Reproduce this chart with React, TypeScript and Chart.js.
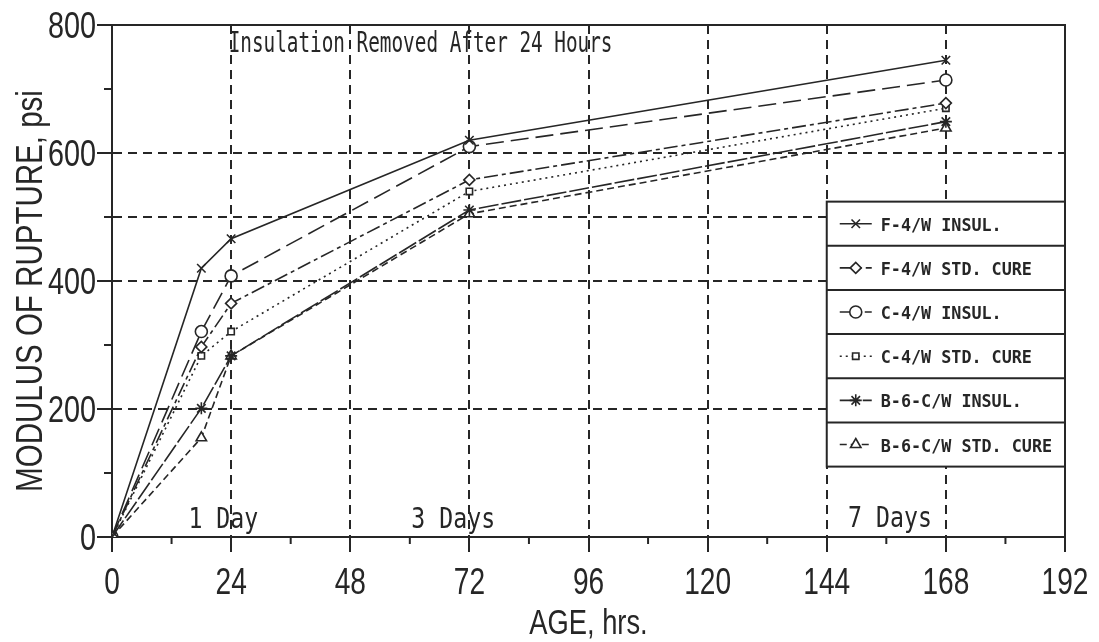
import React, { useEffect, useRef } from 'react';
import { Chart, registerables } from 'chart.js';
import { drawPoint } from 'chart.js/helpers';

Chart.register(...registerables);

// ---------------- DATA ----------------
const hours = [0, 18, 24, 72, 168];
const seriesNames = [
  'F-4/W INSUL.',
  'F-4/W STD. CURE',
  'C-4/W INSUL.',
  'C-4/W STD. CURE',
  'B-6-C/W INSUL.',
  'B-6-C/W STD. CURE',
];
const f4Insul = [0, 420, 466, 620, 745];
const f4Std = [0, 297, 365, 558, 678];
const c4Insul = [0, 321, 408, 610, 714];
const c4Std = [0, 283, 321, 540, 670];
const b6Insul = [0, 201, 283, 511, 649];
const b6Std = [0, 155, 283, 505, 639];
const seriesValues = [f4Insul, f4Std, c4Insul, c4Std, b6Insul, b6Std];

const xMajorTicks = [0, 24, 48, 72, 96, 120, 144, 168, 192];
const xGridValues = [24, 48, 72, 96, 120, 144, 168];
const yMajorTicks = [0, 200, 400, 600, 800];
const yGridValues = [200, 400, 500, 600];
const xMinorTicks = [12, 36, 60, 84, 108, 132, 156, 180];
const yMinorTicks = [100, 300, 500, 700];

const yTitle = 'MODULUS OF RUPTURE, psi';
const xTitle = 'AGE, hrs.';

// annotation texts, anchored in data coordinates
const notes = [
  { text: 'Insulation Removed After 24 Hours', x: 23.5, y: 758, size: 28, sx: 0.69 },
  { text: '1 Day', x: 15.4, y: 14, size: 29, sx: 0.8 },
  { text: '3 Days', x: 60.3, y: 14, size: 29, sx: 0.8 },
  { text: '7 Days', x: 148.3, y: 16, size: 29, sx: 0.8 },
];
// legend box extent in data coordinates
const legendBox = { x0: 144, x1: 192, yTop: 524, yBottom: 110 };

// ---------------- STYLES ----------------
const INK = '#262626';
const SANS = "'Liberation Sans', Arial, sans-serif";
const MONO = "'DejaVu Sans Mono', 'Liberation Mono', monospace";
const styles = [
  { dash: [] as number[], point: 'crossRot', r: 6, bg: INK },
  { dash: [14, 4, 4, 4], point: 'rectRot', r: 5.5, bg: '#fff' },
  { dash: [18, 7], point: 'circle', r: 6, bg: '#fff' },
  { dash: [2, 4], point: 'rect', r: 4.5, bg: '#fff' },
  { dash: [20, 3], point: 'star', r: 6, bg: INK },
  { dash: [7, 4], point: 'triangle', r: 6, bg: '#fff' },
];

function text(ctx: CanvasRenderingContext2D, s: string, x: number, y: number, font: string, sx: number, align: CanvasTextAlign, rot = 0) {
  ctx.save();
  ctx.translate(x, y);
  if (rot) ctx.rotate(rot);
  ctx.scale(sx, 1);
  ctx.font = font;
  ctx.textAlign = align;
  ctx.textBaseline = 'alphabetic';
  ctx.fillStyle = INK;
  ctx.fillText(s, 0, 0);
  ctx.restore();
}

const extrasPlugin = {
  id: 'extras',
  afterDatasetsDraw(chart: any) {
    const { ctx, scales } = chart;
    const xs = scales.x;
    const ys = scales.y;
    ctx.save();
    for (const n of notes) {
      text(ctx, n.text, xs.getPixelForValue(n.x), ys.getPixelForValue(n.y), `${n.size}px ${MONO}`, n.sx, 'left');
    }
    // legend box
    const lx0 = xs.getPixelForValue(legendBox.x0);
    const lx1 = xs.getPixelForValue(legendBox.x1);
    const ly0 = ys.getPixelForValue(legendBox.yTop);
    const ly1 = ys.getPixelForValue(legendBox.yBottom);
    ctx.fillStyle = '#fff';
    ctx.fillRect(lx0, ly0, lx1 - lx0, ly1 - ly0);
    ctx.strokeStyle = INK;
    ctx.lineWidth = 2;
    ctx.setLineDash([]);
    ctx.strokeRect(lx0, ly0, lx1 - lx0, ly1 - ly0);
    const rowH = (ly1 - ly0) / seriesNames.length;
    for (let i = 0; i < seriesNames.length; i++) {
      const top = ly0 + i * rowH;
      if (i > 0) {
        ctx.beginPath();
        ctx.moveTo(lx0, top);
        ctx.lineTo(lx1, top);
        ctx.lineWidth = 2;
        ctx.setLineDash([]);
        ctx.stroke();
      }
      const cy = top + rowH / 2;
      const st = styles[i];
      ctx.beginPath();
      ctx.lineWidth = 1.6;
      ctx.strokeStyle = INK;
      ctx.setLineDash(st.dash);
      ctx.moveTo(lx0 + 13, cy);
      ctx.lineTo(lx0 + 45, cy);
      ctx.stroke();
      ctx.setLineDash([]);
      ctx.fillStyle = st.bg;
      ctx.lineWidth = 1.6;
      drawPoint(ctx, { pointStyle: st.point as any, radius: st.r, rotation: 0, borderWidth: 1.6 }, lx0 + 29, cy);
      text(ctx, seriesNames[i], lx0 + 54, cy + 7, `bold 18px ${MONO}`, 0.93, 'left');
    }
    ctx.restore();
  },
  afterDraw(chart: any) {
    const { ctx, chartArea, scales } = chart;
    const xs = scales.x;
    const ys = scales.y;
    ctx.save();
    ctx.strokeStyle = INK;
    ctx.lineWidth = 2;
    ctx.setLineDash([]);
    // frame top and right
    ctx.beginPath();
    ctx.moveTo(chartArea.left, chartArea.top);
    ctx.lineTo(chartArea.right, chartArea.top);
    ctx.lineTo(chartArea.right, chartArea.bottom);
    ctx.stroke();
    // minor ticks
    for (const v of xMinorTicks) {
      const px = xs.getPixelForValue(v);
      ctx.beginPath();
      ctx.moveTo(px, chartArea.bottom);
      ctx.lineTo(px, chartArea.bottom + 7);
      ctx.stroke();
    }
    for (const v of yMinorTicks) {
      const py = ys.getPixelForValue(v);
      ctx.beginPath();
      ctx.moveTo(chartArea.left - 8, py);
      ctx.lineTo(chartArea.left, py);
      ctx.stroke();
    }
    // tick labels (condensed)
    for (const v of xMajorTicks) {
      text(ctx, String(v), xs.getPixelForValue(v), chartArea.bottom + 57, `36px ${SANS}`, 0.78, 'center');
    }
    for (const v of yMajorTicks) {
      text(ctx, String(v), chartArea.left - 16, ys.getPixelForValue(v) + 13, `36px ${SANS}`, 0.8, 'right');
    }
    // axis titles
    text(ctx, xTitle, (chartArea.left + chartArea.right) / 2, 634, `35px ${SANS}`, 0.78, 'center');
    text(ctx, yTitle, 42, (ys.getPixelForValue(0) + ys.getPixelForValue(800)) / 2 + 10, `36px ${SANS}`, 0.82, 'center', -Math.PI / 2);
    ctx.restore();
  },
};

export default function App() {
  const ref = useRef<HTMLCanvasElement>(null);
  useEffect(() => {
    document.body.style.margin = '0';
    const datasets = seriesNames.map((name, i) => ({
      label: name,
      data: hours.map((h, j) => ({ x: h, y: seriesValues[i][j] })),
      borderColor: INK,
      borderWidth: 1.6,
      borderDash: styles[i].dash,
      pointStyle: styles[i].point as any,
      pointRadius: styles[i].r,
      pointBorderWidth: 1.6,
      pointBorderColor: INK,
      pointBackgroundColor: styles[i].bg,
      fill: false,
      tension: 0,
      showLine: true,
    }));
    const chart = new Chart(ref.current!, {
      type: 'line',
      data: { datasets },
      plugins: [extrasPlugin],
      options: {
        animation: false,
        responsive: false,
        devicePixelRatio: 1,
        layout: { padding: { top: 25, right: 34, left: 0, bottom: 0 } },
        plugins: { legend: { display: false }, tooltip: { enabled: false } },
        scales: {
          x: {
            type: 'linear',
            min: 0,
            max: 192,
            afterFit: (s: any) => { s.height = 105; },
            ticks: { stepSize: 12, autoSkip: false, display: false },
            grid: {
              lineWidth: 2,
              color: (c: any) => (xGridValues.includes(c.tick?.value) ? INK : 'transparent'),
              tickColor: (c: any) => (xMajorTicks.includes(c.tick?.value) ? INK : 'transparent'),
              tickLength: 15,
              tickWidth: 2,
              tickBorderDash: [],
            },
            border: { display: true, color: INK, width: 2, dash: [9, 6] },
            title: { display: false },
          },
          y: {
            type: 'linear',
            min: 0,
            max: 800,
            afterFit: (s: any) => { s.width = 112; },
            ticks: { stepSize: 100, autoSkip: false, display: false },
            grid: {
              lineWidth: 2,
              color: (c: any) => (yGridValues.includes(c.tick?.value) ? INK : 'transparent'),
              tickColor: (c: any) => (yMajorTicks.includes(c.tick?.value) ? INK : 'transparent'),
              tickLength: 15,
              tickWidth: 2,
              tickBorderDash: [],
            },
            border: { display: true, color: INK, width: 2, dash: [9, 6] },
            title: { display: false },
          },
        },
      },
    });
    return () => chart.destroy();
  }, []);
  return (
    <div style={{ position: 'absolute', left: 0, top: 0, width: 1099, height: 642, background: '#fff' }}>
      <canvas ref={ref} width={1099} height={642} style={{ width: 1099, height: 642, display: 'block' }} />
    </div>
  );
}
